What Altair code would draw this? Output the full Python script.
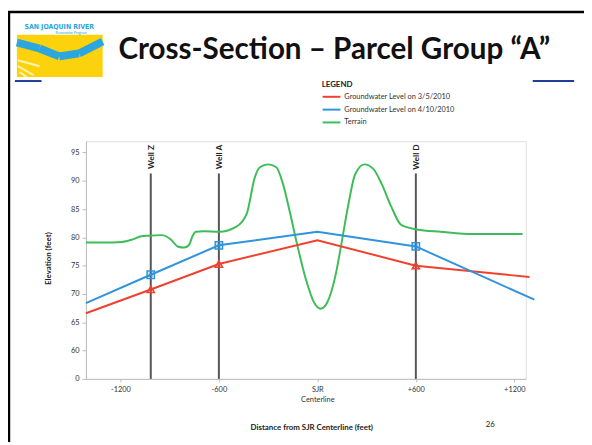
import json
import altair as alt
import pandas as pd

# ---------------- data ----------------
well_names = ["Well Z", "Well A", "Well D"]
well_x = [-1015, -600, 600]

red_x = [-1410, -1015, -600, 0, 600, 1292]
red_y = [66.6, 70.8, 75.3, 79.5, 75.0, 73.0]

blue_x = [-1410, -1015, -600, 0, 600, 1322]
blue_y = [68.4, 73.4, 78.6, 81.0, 78.4, 69.0]

terrain_x = [-1410, -1300, -1190, -1120, -1073, -1031, -951, -891, -851, -811, -781,
             -761, -741, -691, -597, -493, -430, -381, -350, -300, -250, -210, -170,
             -130, -70, -20, 20, 60, 110, 151, 190, 231, 287, 341, 391, 451, 511,
             607, 752, 952, 1250]
terrain_y = [79.1, 79.1, 79.2, 79.7, 80.2, 80.3, 80.4, 79.6, 78.4, 78.2, 78.7,
             80.2, 81.0, 81.1, 81.0, 81.9, 84.2, 90.6, 92.4, 92.9, 92.4, 89.5, 84.8,
             79.6, 72.6, 68.5, 67.4, 68.5, 73.2, 79.6, 86.0, 91.2, 92.9, 92.1, 89.5,
             85.4, 82.2, 81.4, 81.0, 80.6, 80.6]

series_names = ["Groundwater Level on 3/5/2010", "Groundwater Level on 4/10/2010", "Terrain"]
series_colors = ["#F0412F", "#2F93DE", "#3DBD5A"]

x_tick_values = [-1200, -600, 0, 600, 1200]
x_tick_labels = ["-1200", "-600", "SJR\nCenterline", "+600", "+1200"]
y_tick_values = [55, 60, 65, 70, 75, 80, 85, 90, 95]
y_tick_labels = ["0", "60", "65", "70", "75", "80", "85", "90", "95"]

title_text = "Cross-Section \u2013 Parcel Group \u201cA\u201d"
x_title = "Distance from SJR Centerline (feet)"
y_title = "Elevation (feet)"
page_number = "26"

# ---------------- layout helpers ----------------
W, H = 446, 241
OX, OY = 87, 140  # page position of plot origin
XDOM = [-1410, 1270]
YDOM = [55, 97]
WELL_TOP = 91.3
WELL_LABEL_Y = 94.2
FONT = "Lato"


def px(x):
    return x - OX


def py(y):
    return y - OY


def label_expr(values, labels):
    parts = []
    for v, l in zip(values, labels):
        parts.append(f"datum.value == {v} ? {json.dumps(l.split(chr(10)))}")
    return " : ".join(parts) + " : ''"


one = pd.DataFrame({"k": [0]})
xs = alt.Scale(domain=XDOM, nice=False, zero=False)
ys = alt.Scale(domain=YDOM, nice=False, zero=False)

x_axis = alt.Axis(
    values=x_tick_values, labelExpr=label_expr(x_tick_values, x_tick_labels), title=None,
    grid=False, tickSize=3, labelPadding=4, labelOverlap=False, labelFlush=False,
    domainColor="#bdbdbd", tickColor="#bdbdbd", labelColor="#333333", labelFont=FONT,
    labelFontSize=7.5, labelLineHeight=10)
y_axis = alt.Axis(
    values=y_tick_values, labelExpr=label_expr(y_tick_values, y_tick_labels), title=None,
    grid=False, tickSize=4, labelPadding=3, labelOverlap=False, labelFlush=False,
    domainColor="#bdbdbd", tickColor="#bdbdbd", labelColor="#333333", labelFont=FONT,
    labelFontSize=7.5)


def X(field):
    return alt.X(f"{field}:Q", scale=xs, axis=x_axis)


def Y(field):
    return alt.Y(f"{field}:Q", scale=ys, axis=y_axis)


gw = pd.DataFrame({
    "x": red_x + blue_x,
    "y": red_y + blue_y,
    "s": [series_names[0]] * len(red_x) + [series_names[1]] * len(blue_x),
})
terrain = pd.DataFrame({"x": terrain_x, "y": terrain_y, "s": series_names[2]})
wells = pd.DataFrame({"x": well_x, "name": well_names, "top": WELL_TOP, "y": YDOM[0],
                      "ly": WELL_LABEL_Y})
markers = gw[gw["x"].isin(well_x)]

color = alt.Color("s:N", scale=alt.Scale(domain=series_names, range=series_colors), legend=None)
shape = alt.Shape("s:N", scale=alt.Scale(domain=series_names[:2],
                                         range=["triangle-up", "square"]), legend=None)

layers = []

# well rules and labels
layers.append(alt.Chart(wells).mark_rule(color="#555555", strokeWidth=2).encode(
    x=X("x"), y=Y("y"), y2="top:Q"))
layers.append(alt.Chart(wells).mark_text(angle=270, align="center", baseline="middle",
                                         font=FONT, fontWeight="bold", fontSize=8.5,
                                         color="#222222").encode(
    x=X("x"), y=Y("ly"), text="name:N"))

# series lines
layers.append(alt.Chart(terrain).mark_line(strokeWidth=2, interpolate="monotone").encode(
    x=X("x"), y=Y("y"), color=color))
layers.append(alt.Chart(gw).mark_line(strokeWidth=2).encode(
    x=X("x"), y=Y("y"), color=color, detail="s:N"))
layers.append(alt.Chart(markers).mark_point(filled=False, strokeWidth=1.5, size=55, opacity=1).encode(
    x=X("x"), y=Y("y"), color=color, shape=shape))
layers.append(alt.Chart(markers).mark_point(filled=True, size=24, opacity=0.45).encode(
    x=X("x"), y=Y("y"), color=color, shape=shape))


def text_at(x, y, txt, size, weight="normal", align="left", baseline="middle",
            angle=0, color="#222222", font=FONT):
    return alt.Chart(one).mark_text(fontSize=size, fontWeight=weight, align=align,
                                    baseline=baseline, angle=angle, color=color,
                                    font=font).encode(
        x=alt.value(px(x)), y=alt.value(py(y)), text=alt.value(txt))


def seg(x1, y1, x2, y2, color, width, cap="butt"):
    return alt.Chart(one).mark_rule(color=color, strokeWidth=width, strokeCap=cap).encode(
        x=alt.value(px(x1)), x2=alt.value(px(x2)), y=alt.value(py(y1)), y2=alt.value(py(y2)))


# axis titles, page number
layers.append(text_at(50, 259, y_title, 8, weight="bold", align="center", angle=270))
layers.append(text_at(316, 431, x_title, 8, weight="bold", align="center"))
layers.append(text_at(497, 428, page_number, 8, align="center"))

# legend
layers.append(text_at(326, 83, "LEGEND", 8, weight="bold"))
legend_y = [95, 108, 121]
for name, col, ly in zip(series_names, series_colors, legend_y):
    layers.append(seg(327, ly, 345, ly, col, 2))
    layers.append(text_at(349, ly, name, 7.5, color="#333333"))

# slide frame and decorations
layers.append(seg(8, 9, 592, 9, "#000000", 2.5))
layers.append(seg(9, 8, 9, 445, "#000000", 2.5))
layers.append(seg(15, 79, 42, 79, "#1F3F95", 2))
layers.append(seg(540, 79, 582, 79, "#1F3F95", 2))
layers.append(text_at(120, 57, title_text, 30, weight="bold", baseline="alphabetic",
                      color="#111111"))

# logo
layers.append(alt.Chart(one).mark_rect(color="#FBD20B").encode(
    x=alt.value(px(17)), x2=alt.value(px(104)), y=alt.value(py(32)), y2=alt.value(py(75))))
for (a, b, c, d) in [(17, 40, 40, 46), (40, 46, 60, 54), (60, 54, 80, 51), (80, 51, 104, 39)]:
    layers.append(seg(a, b, c, d, "#2BA6DE", 8))
for (a, b, c, d) in [(18, 58, 40, 64), (18, 64, 34, 73), (20, 70, 27, 75)]:
    layers.append(seg(a, b, c, d, "#FFF3B0", 2))
layers.append(text_at(60, 24, "SAN JOAQUIN RIVER", 7, weight="bold", align="center",
                      color="#2BA6DE", font="DejaVu Sans Condensed"))
layers.append(text_at(72, 30, "Restoration Program", 3.5, align="center", color="#2BA6DE"))

chart = alt.layer(*layers).properties(
    width=W, height=H,
    autosize=alt.AutoSizeParams(type="none"),
    padding={"left": OX - 8, "top": OY - 8, "right": 584 - (OX - 8) - W,
             "bottom": 437 - (OY - 8) - H},
).configure_view(stroke=None).configure_axis(labelOverlap=False).configure(background="white")

chart.save("out.html", embed_options={"renderer": "svg", "actions": False})
